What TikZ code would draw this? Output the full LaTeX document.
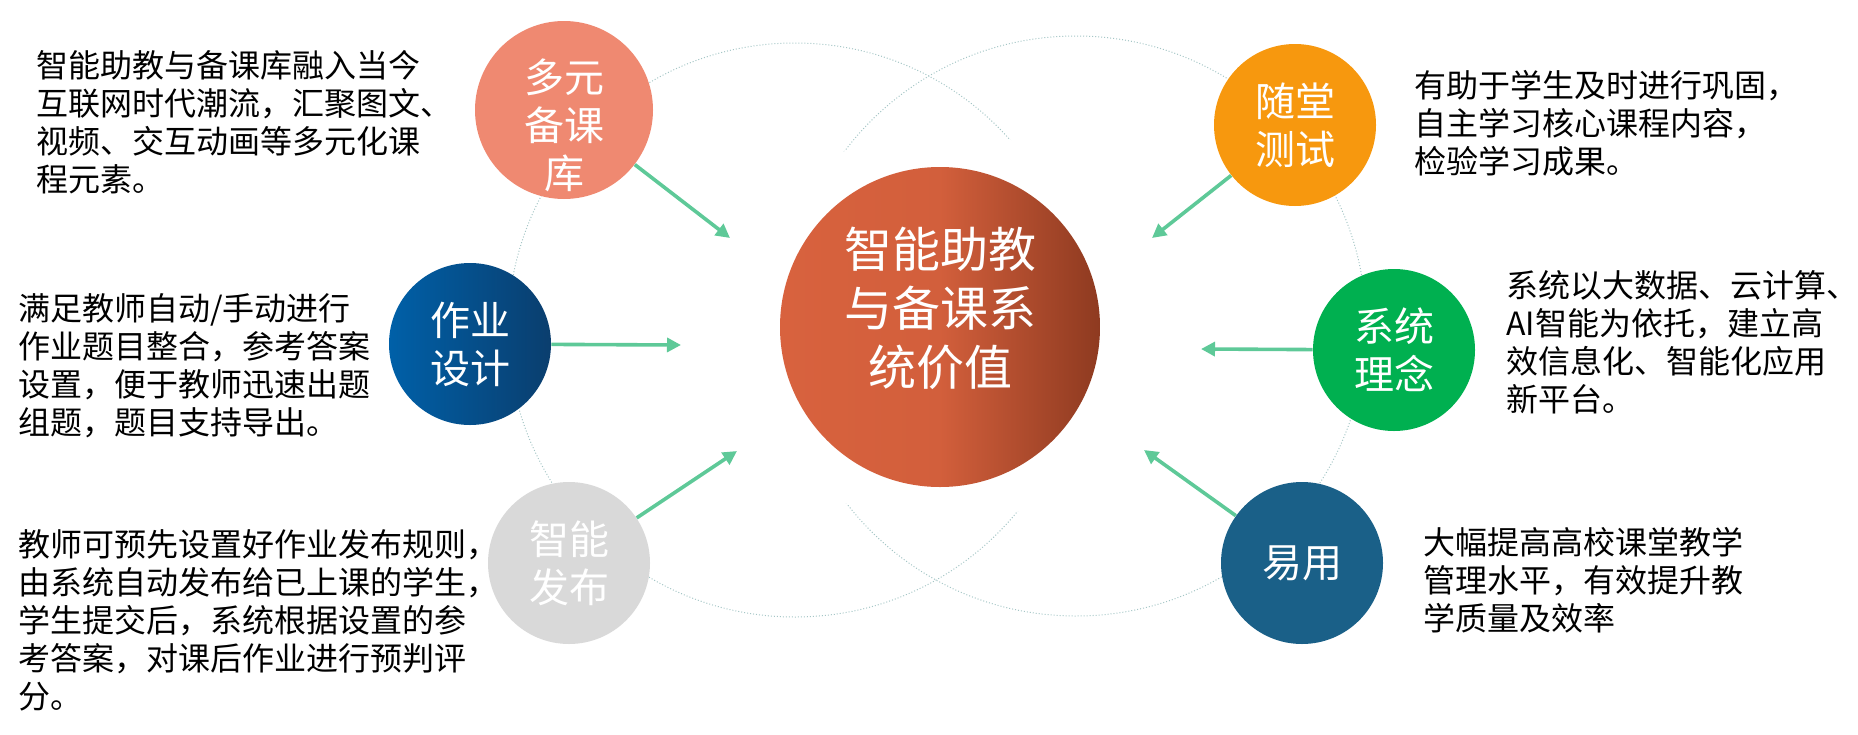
\documentclass[tikz,border=0pt]{standalone}
\usepackage{fontspec}
\setmainfont{Noto Sans CJK SC}
\usepackage{tikz}
\usetikzlibrary{calc,arrows.meta}
\usepackage{color}

\definecolor{ringgray}{RGB}{165,198,198}
\definecolor{arrowgreen}{RGB}{94,201,152}
\definecolor{salmon}{RGB}{239,137,113}
\definecolor{paleblue}{RGB}{0,96,168}
\definecolor{deepblue}{RGB}{10,62,110}
\definecolor{lightgray}{RGB}{217,217,217}
\definecolor{orange}{RGB}{247,152,14}
\definecolor{green}{RGB}{0,176,80}
\definecolor{steel}{RGB}{26,96,136}
\definecolor{rust}{RGB}{216,98,62}
\definecolor{darkrust}{RGB}{142,58,32}

\begin{document}
\begin{tikzpicture}[x=0.5pt,y=-0.5pt,
    ball/.style={circle, inner sep=0pt, minimum size=81pt, text=white, align=center,
      font=\fontsize{20pt}{24pt}\selectfont},
    desc/.style={anchor=north west, inner sep=0pt, align=left,
      font=\fontsize{16pt}{19pt}\selectfont},
    arr/.style={line width=1.8pt, draw=arrowgreen, -{Triangle[length=7pt,width=7pt]}},
    ring/.style={draw=ringgray, line width=0.5pt, densely dotted}]
    \useasboundingbox (0,0) rectangle (1858,734);
    \draw[ring] (795,330) circle [radius=287];
    \draw[ring] (1076,326) circle [radius=290];
    \fill[white] (940,327) circle [radius=200];

    \node (core) at (940,327) [circle, minimum size=160pt, inner sep=0pt,
      left color=rust, right color=darkrust, middle color=rust!92!darkrust] {};
    \node (coretext) at (940,308) [text=white, align=center,
      font=\fontsize{24pt}{29.5pt}\selectfont] {智能助教\\与备课系\\统价值};

    \node (duoyuan) at (564,110) [ball, minimum size=89pt, fill=salmon] {};
    \node (duoyuantext) at (564,125) [text=white, align=center,
      font=\fontsize{20pt}{24pt}\selectfont] {多元\\备课\\库};
    \node (zuoye) at (470,344) [ball, left color=paleblue, right color=deepblue] {作业\\设计};
    \node (zhineng) at (569,563) [ball, fill=lightgray] {智能\\发布};
    \node (suitang) at (1295,125) [ball, fill=orange] {随堂\\测试};
    \node (xitong) at (1394,350) [ball, fill=green] {系统\\理念};
    \node (yiyong) at (1302,563) [ball, fill=steel] {易用};

    \coordinate (duoyuanend) at (730,238);
    \coordinate (zuoyeend) at (681,345);
    \coordinate (zhinengend) at (737,451);
    \coordinate (suitangend) at (1152,238);
    \coordinate (xitongend) at (1201,349);
    \coordinate (yiyongend) at (1144,450);
    \draw[arr] (duoyuan) -- (duoyuanend);
    \draw[arr] (zuoye) -- (zuoyeend);
    \draw[arr] (zhineng) -- (zhinengend);
    \draw[arr] (suitang) -- (suitangend);
    \draw[arr] (xitong) -- (xitongend);
    \draw[arr] (yiyong) -- (yiyongend);

    \node (duoyuandesc) at (36,50) [desc] {智能助教与备课库融入当今\\互联网时代潮流，汇聚图文、\\视频、交互动画等多元化课\\程元素。};
    \node (zuoyedesc) at (18,293) [desc] {满足教师自动/手动进行\\作业题目整合，参考答案\\设置，便于教师迅速出题\\组题，题目支持导出。};
    \node (zhinengdesc) at (18,529) [desc] {教师可预先设置好作业发布规则，\\由系统自动发布给已上课的学生，\\学生提交后，系统根据设置的参\\考答案，对课后作业进行预判评\\分。};
    \node (suitangdesc) at (1414,70) [desc] {有助于学生及时进行巩固，\\自主学习核心课程内容，\\检验学习成果。};
    \node (xitongdesc) at (1506,270) [desc] {系统以大数据、云计算、\\AI智能为依托，建立高\\效信息化、智能化应用\\新平台。};
    \node (yiyongdesc) at (1423,527) [desc] {大幅提高高校课堂教学\\管理水平，有效提升教\\学质量及效率};
\end{tikzpicture}
\end{document}
